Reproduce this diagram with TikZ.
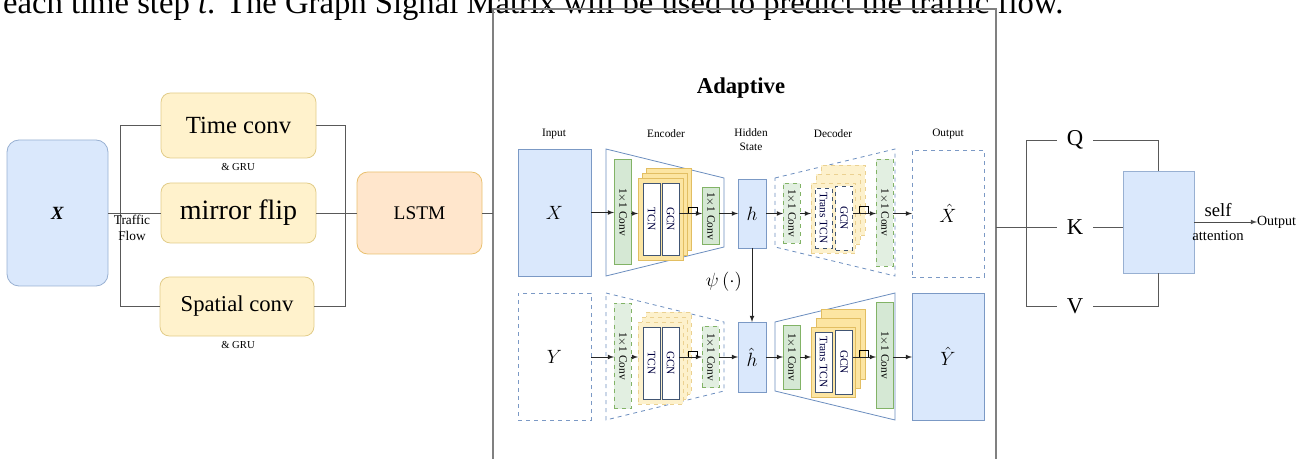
\documentclass[tikz,border=0pt]{standalone}
\usepackage{fontspec}
\setmainfont{Liberation Serif}
\usepackage{graphicx}
\usepackage{tikz}
\usetikzlibrary{arrows}

\definecolor{bluefill}{HTML}{DAE8FC}
\definecolor{bluedraw}{HTML}{6C8EBF}
\definecolor{yellowfill}{HTML}{FFF2CC}
\definecolor{yellowdraw}{HTML}{D6B656}
\definecolor{layerfill}{HTML}{FCE5A2}
\definecolor{layerdraw}{HTML}{E2BE62}
\definecolor{greenfill}{HTML}{D5E8D4}
\definecolor{greendraw}{HTML}{82B366}
\definecolor{orangefill}{HTML}{FFE6CC}
\definecolor{orangedraw}{HTML}{E3B04B}

\begin{document}
\begin{tikzpicture}[x=0.75pt,y=-0.75pt,line width=0.6pt,
	every node/.style = {inner sep=0pt,outer sep=0pt,align=center},
	roundBlue/.style={rectangle,rounded corners=9pt,draw=bluedraw!70,fill=bluefill},
	roundYellow/.style={rectangle,rounded corners=7pt,draw=yellowdraw!70,fill=yellowfill},
	roundOrange/.style={rectangle,rounded corners=8pt,draw=orangedraw!80,fill=orangefill},
	plainBlue/.style={rectangle,draw=bluedraw!90,fill=bluefill},
	dashBlue/.style={rectangle,draw=bluedraw!90,dashed,fill=white},
	trap/.style={draw=bluedraw,fill=white},
	trapDash/.style={trap,dashed},
	conv/.style={rectangle,draw=greendraw,fill=greenfill,minimum width=12.75pt,font=\fontsize{8.5}{10}\selectfont},
	convDash/.style={conv,dashed,fill=greenfill!70},
	layer/.style={rectangle,draw=layerdraw,fill=layerfill},
	layerDash/.style={layer,dashed,draw=layerdraw!70,fill=layerfill!55},
	cell/.style={rectangle,draw=bluedraw!60!black,fill=white,minimum width=12.75pt,text=blue!25!black,font=\fontsize{8.5}{10}\selectfont},
	colLabel/.style={font=\fontsize{8.5}{10.5}\selectfont},
	wire/.style={draw=black!65},
	link/.style={->,>=latex,black!85}
	]
\useasboundingbox (0,0) rectangle (1312,459);
\node[anchor=base west,font=\fontsize{24.5}{28}\selectfont] (caption) at (3,14) {each time step \textit{t}. The Graph Signal Matrix will be used to predict the traffic flow.};

\node[roundBlue,minimum width=75.75pt,minimum height=109.5pt,font=\fontsize{14}{16}\selectfont] (xin) at (57.5,213) {\textbf{\textit{X}}};
\node[roundYellow,minimum width=116.25pt,minimum height=48.75pt,font=\fontsize{18.5}{20}\selectfont] (tconv) at (238.5,125.5) {Time conv};
\node[roundYellow,minimum width=116.25pt,minimum height=45pt,font=\fontsize{21}{24}\selectfont] (mflip) at (238.5,213) {mirror flip};
\node[roundYellow,minimum width=115.5pt,minimum height=44.25pt,font=\fontsize{17}{20}\selectfont] (sconv) at (237,306.5) {Spatial conv};
\node[roundOrange,minimum width=93.75pt,minimum height=61.5pt,font=\fontsize{14.5}{17}\selectfont] (lstm) at (419.5,213) {LSTM};
\node[font=\fontsize{8}{9}\selectfont] (gru1) at (238,167) {\& GRU};
\node[font=\fontsize{8}{9}\selectfont] (gru2) at (238,345) {\& GRU};

\draw[wire] (xin.east) -- (mflip.west);
\draw[wire] (tconv.west) -- ++(-41,0) |- (sconv.west);
\draw[wire] (tconv.east) -- ++(29,0) |- (sconv.east);
\draw[wire] (mflip.east) -- (lstm.west);
\node[font=\fontsize{10}{12}\selectfont] (flow) at (132,228) {Traffic\\Flow};

\node[draw=black!50,line width=0.9pt,minimum width=377.25pt,minimum height=345.75pt] (adapt) at (744.5,239.5) {};
\draw[wire] (lstm.east) -- (lstm.east -| adapt.west);
\node[font=\bfseries\fontsize{17}{20}\selectfont] (title) at (741,88) {Adaptive};

\node[colLabel] (lin) at (554,134) {Input};
\node[colLabel] (lenc) at (666,134) {Encoder};
\node[colLabel] (lhid) at (751,140) {Hidden\\State};
\node[colLabel] (ldec) at (833,134) {Decoder};
\node[colLabel] (lout) at (948,134) {Output};

\draw[trap] (606,149) -- (724,178) -- (724,247) -- (606,276) -- cycle;
\draw[trapDash] (775,178) -- (895,149) -- (895,276) -- (775,247) -- cycle;
\draw[trapDash] (606,293) -- (724,322) -- (724,391) -- (606,420) -- cycle;
\draw[trap] (775,322) -- (895,293) -- (895,420) -- (775,391) -- cycle;

\node[plainBlue,minimum width=54.75pt,minimum height=95.25pt,font=\fontsize{14}{16}\selectfont] (inX) at (554.5,212.5) {$X$};
\node[conv,minimum height=78.75pt] (ec1) at (622.5,212) {\rotatebox{-90}{1$\times$1 Conv}};
\node[layer,minimum width=33.75pt,minimum height=61.5pt] (eback) at (668.5,209) {};
\node[layer,minimum width=33.75pt,minimum height=61.5pt] (emid) at (664.5,214) {};
\node[layer,minimum width=33.75pt,minimum height=61.5pt] (efront) at (660.5,219) {};
\node[cell,minimum height=54pt] (etcn) at (651.5,219) {\rotatebox{-90}{TCN}};
\node[cell,minimum height=54pt] (egcn) at (670.5,219) {\rotatebox{-90}{GCN}};
\node[conv,minimum height=42.75pt] (ec2) at (710.5,216) {\rotatebox{-90}{1$\times$1 Conv}};
\node[plainBlue,minimum width=21pt,minimum height=51.75pt,font=\fontsize{14}{16}\selectfont] (hid) at (752,213.5) {$h$};
\node[convDash,minimum height=45pt] (dc1) at (791.5,213) {\rotatebox{-90}{1$\times$1 Conv}};
\node[layerDash,minimum width=33pt,minimum height=52.5pt] (dback) at (843,200) {};
\node[layerDash,minimum width=33pt,minimum height=52.5pt] (dmid) at (838,209) {};
\node[layerDash,minimum width=33pt,minimum height=52.5pt] (dfront) at (833,218) {};
\node[cell,dashed,minimum height=45pt] (dtcn) at (823.5,218) {\rotatebox{-90}{Trans TCN}};
\node[cell,dashed,minimum height=48pt] (dgcn) at (844,218) {\rotatebox{-90}{GCN}};
\node[convDash,minimum height=80.25pt] (dc2) at (884.5,212.5) {\rotatebox{-90}{1$\times$1 Conv}};
\node[dashBlue,minimum width=54pt,minimum height=95.25pt,font=\fontsize{14}{16}\selectfont] (outX) at (948,213.5) {$\hat{X}$};

\node[dashBlue,minimum width=54.75pt,minimum height=95.25pt,font=\fontsize{14}{16}\selectfont] (inY) at (554.5,356.5) {$Y$};
\node[convDash,minimum height=78.75pt] (ec1b) at (622.5,356) {\rotatebox{-90}{1$\times$1 Conv}};
\node[layerDash,minimum width=33.75pt,minimum height=61.5pt] (ebackb) at (668.5,353) {};
\node[layerDash,minimum width=33.75pt,minimum height=61.5pt] (emidb) at (664.5,358) {};
\node[layerDash,minimum width=33.75pt,minimum height=61.5pt] (efrontb) at (660.5,363) {};
\node[cell,minimum height=54pt] (etcnb) at (651.5,363) {\rotatebox{-90}{TCN}};
\node[cell,minimum height=54pt] (egcnb) at (670.5,363) {\rotatebox{-90}{GCN}};
\node[convDash,minimum height=46pt] (ec2b) at (710.5,357) {\rotatebox{-90}{1$\times$1 Conv}};
\node[plainBlue,minimum width=21pt,minimum height=52.5pt,font=\fontsize{14}{16}\selectfont] (hhat) at (752,357) {$\hat{h}$};
\node[conv,minimum height=48pt] (dc1b) at (791.5,357) {\rotatebox{-90}{1$\times$1 Conv}};
\node[layer,minimum width=33pt,minimum height=52.5pt] (dbackb) at (843,344) {};
\node[layer,minimum width=33pt,minimum height=52.5pt] (dmidb) at (838,353) {};
\node[layer,minimum width=33pt,minimum height=52.5pt] (dfrontb) at (833,362) {};
\node[cell,minimum height=45pt] (dtcnb) at (823.5,362) {\rotatebox{-90}{Trans TCN}};
\node[cell,minimum height=48pt] (dgcnb) at (844,362) {\rotatebox{-90}{GCN}};
\node[conv,minimum height=79.5pt] (dc2b) at (884.5,355) {\rotatebox{-90}{1$\times$1 Conv}};
\node[plainBlue,minimum width=54pt,minimum height=95.25pt,font=\fontsize{14}{16}\selectfont] (outY) at (948,356.5) {$\hat{Y}$};

\draw[link] (inX.east) -- (inX.east -| ec1.west);
\draw[link] (ec1.east |- hid.west) -- (hid.west -| efront.west);
\draw[link] (egcn.east |- hid.west) -- (hid.west -| ec2.west);
\draw (688,213) -- (688,207) -- (697,207) -- (697,213);
\draw[link] (ec2.east |- hid.west) -- (hid.west);
\draw[link] (hid.east) -- (hid.east -| dc1.west);
\draw[link] (dc1.east |- hid.east) -- (hid.east -| dfront.west);
\draw[link] (dgcn.east |- hid.east) -- (hid.east -| dc2.west);
\draw (859,213) -- (859,206) -- (868,206) -- (868,213);
\draw[link] (dc2.east |- hid.east) -- (hid.east -| outX.west);

\draw[link] (inY.east |- hhat.west) -- (hhat.west -| ec1b.west);
\draw[link] (ec1b.east |- hhat.west) -- (hhat.west -| efrontb.west);
\draw[link] (egcnb.east |- hhat.west) -- (hhat.west -| ec2b.west);
\draw (688,357) -- (688,351) -- (697,351) -- (697,357);
\draw[link] (ec2b.east |- hhat.west) -- (hhat.west);
\draw[link] (hhat.east) -- (hhat.east -| dc1b.west);
\draw[link] (dc1b.east |- hhat.east) -- (hhat.east -| dfrontb.west);
\draw[link] (dgcnb.east |- hhat.east) -- (hhat.east -| dc2b.west);
\draw (859,357) -- (859,350) -- (868,350) -- (868,357);
\draw[link] (dc2b.east |- hhat.east) -- (hhat.east -| outY.west);

\draw[link] (hid.south) -- (hhat.north);
\node[font=\fontsize{14}{16}\selectfont] (psi) at (724,282) {$\psi\left(\cdot\right)$};

\node[font=\fontsize{17}{20}\selectfont,inner xsep=7.5pt] (qq) at (1075,140) {Q};
\node[font=\fontsize{17}{20}\selectfont,inner xsep=7.5pt] (kk) at (1075,227) {K};
\node[font=\fontsize{17}{20}\selectfont,inner xsep=7.5pt] (vv) at (1075,306) {V};
\node[plainBlue,draw=bluedraw!70,minimum width=53.25pt,minimum height=76.5pt] (att) at (1158.5,222) {};
\node[anchor=west,font=\fontsize{10.5}{12}\selectfont] (res) at (1257,222) {Output};
\node[font=\fontsize{14}{16}\selectfont] (self) at (1218,210) {self};
\node[font=\fontsize{11}{13}\selectfont] (attn) at (1218,236) {attention};

\draw[wire] (adapt.east |- kk.west) -- (kk.west);
\draw[wire] (qq.west) -- ++(-30,0) |- (vv.west);
\draw[wire] (qq.east) -| (att.north);
\draw[wire] (kk.east) -- (kk.east -| att.west);
\draw[wire] (vv.east) -| (att.south);
\draw[->,>=latex,black!70] (att.east) -- (res.west);
\end{tikzpicture}
\end{document}
